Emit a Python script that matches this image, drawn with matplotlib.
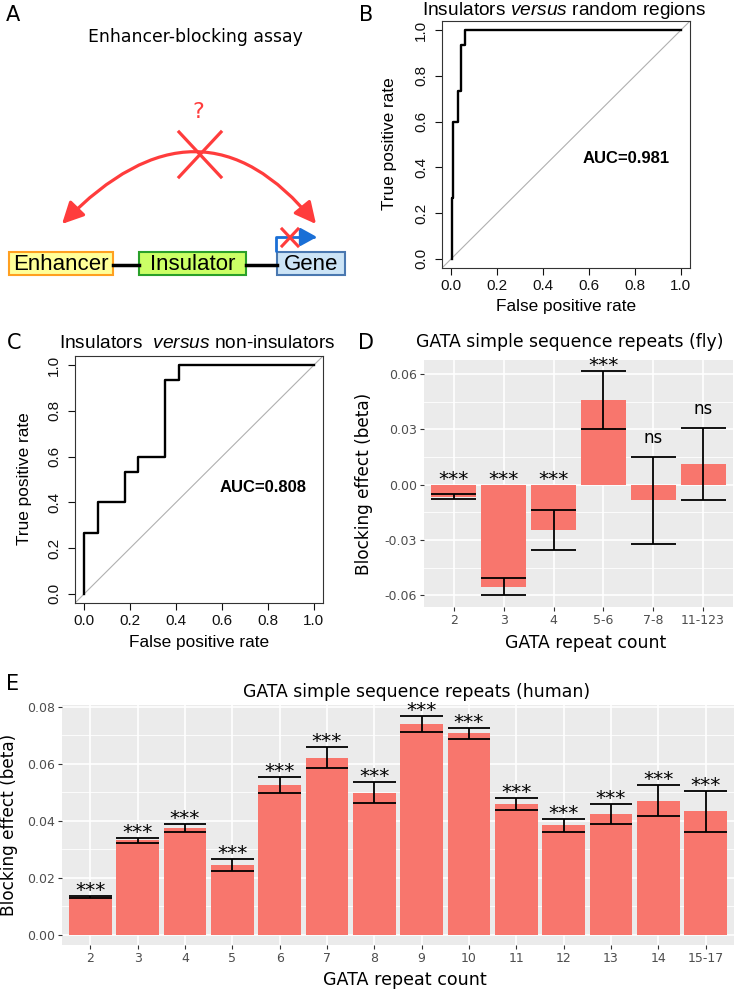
import matplotlib
matplotlib.use("Agg")
import matplotlib.pyplot as plt
import numpy as np
from matplotlib.patches import Rectangle, FancyArrowPatch, ArrowStyle
from matplotlib.path import Path

plt.rcParams["font.family"] = ["DejaVu Sans"]
plt.rcParams["mathtext.fontset"] = "custom"
plt.rcParams["mathtext.rm"] = "Liberation Sans"
plt.rcParams["mathtext.it"] = "Liberation Sans:italic"

# ---- data ----
# ROC curves (corner points, steps drawn vertical first)
roc_b_fpr = [0.003, 0.010, 0.029, 0.041, 0.059, 1.0]
roc_b_tpr = [0.0, 4 / 15, 9 / 15, 11 / 15, 14 / 15, 1.0]
auc_b = 0.981

roc_c_fpr = [0.0, 1 / 17, 3 / 17, 4 / 17, 6 / 17, 7 / 17, 1.0]
roc_c_tpr = [0.0, 4 / 15, 6 / 15, 8 / 15, 9 / 15, 14 / 15, 1.0]
auc_c = 0.808

fly_labels = ["2", "3", "4", "5-6", "7-8", "11-123"]
fly_beta = [-0.0065, -0.0552, -0.0245, 0.0458, -0.0085, 0.0112]
fly_err = [0.0014, 0.0048, 0.0108, 0.0158, 0.0235, 0.0197]
fly_sig = ["***", "***", "***", "***", "ns", "ns"]

human_labels = ["2", "3", "4", "5", "6", "7", "8", "9", "10", "11", "12", "13", "14", "15-17"]
human_beta = [0.0133, 0.0332, 0.0376, 0.0245, 0.0525, 0.0621, 0.0498, 0.0739,
              0.0707, 0.0459, 0.0384, 0.0424, 0.0471, 0.0433]
human_err = [0.0002, 0.0008, 0.0014, 0.0022, 0.0029, 0.0037, 0.0037, 0.0028,
             0.0020, 0.0020, 0.0023, 0.0034, 0.0055, 0.0072]
human_sig = ["***"] * 14

W, H = 735, 994
RED = "#ff3c3c"
BAR = "#F8766D"


def rect(x0, y0, x1, y1):
    """ Pixel box (top-left origin) to figure fraction. """
    return [x0 / W, 1 - y1 / H, (x1 - x0) / W, (y1 - y0) / H]


def ftext(x, y, s, **kw):
    fig.text(x / W, 1 - y / H, s, ha="center", va="center", **kw)


fig = plt.figure(figsize=(W / 100, H / 100), dpi=100)

# ---- panel A: schematic ----
axa = fig.add_axes(rect(0, 0, 365, 300))
axa.set_xlim(0, 365)
axa.set_ylim(300, 0)
axa.axis("off")
axa.text(195, 37, "Enhancer-blocking assay", ha="center", va="center", fontsize=12.4)
axa.text(198, 112, "?", ha="center", va="center", fontsize=16, color=RED)

arc = Path([(62, 224), (200, 82), (316, 224)], [Path.MOVETO, Path.CURVE3, Path.CURVE3])
axa.add_patch(FancyArrowPatch(path=arc, arrowstyle=ArrowStyle("<|-|>", head_length=1.0, head_width=0.5),
                              mutation_scale=13, color=RED, lw=2.3))
axa.plot([179, 221], [132, 177], color=RED, lw=2.3)
axa.plot([221, 179], [132, 177], color=RED, lw=2.3)

axa.plot([113, 139], [265, 265], color="black", lw=2.5)
axa.plot([246, 277], [265, 265], color="black", lw=2.5)
boxes = [("Enhancer", 9, 113, "#ffff99", "#ffa020"),
         ("Insulator", 139, 246, "#ccff66", "#2aa02a"),
         ("Gene", 277, 345, "#cce4f6", "#4a78b0")]
for name, x0, x1, fc, ec in boxes:
    axa.add_patch(Rectangle((x0, 252), x1 - x0, 23, facecolor=fc, edgecolor=ec, lw=1.5))
    axa.text((x0 + x1) / 2, 264, name, ha="center", va="center", fontsize=16,
             family="Liberation Sans")

tss = Path([(276, 251), (276, 237), (317, 237)], [Path.MOVETO, Path.LINETO, Path.LINETO])
axa.add_patch(FancyArrowPatch(path=tss, arrowstyle=ArrowStyle("-|>", head_length=1.0, head_width=0.55),
                              mutation_scale=10, color="#1a6fd6", lw=2.0))
axa.plot([282, 298], [229, 246], color=RED, lw=2.2)
axa.plot([298, 282], [229, 246], color=RED, lw=2.2)


# ---- panels B, C: ROC curves ----
def roc_panel(box, fpr, tpr, auc, auc_xy):
    ax = fig.add_axes(rect(*box))
    ax.plot(fpr, tpr, color="black", lw=1.7, drawstyle="steps-pre", zorder=3)
    ax.axline((0, 0), slope=1, color="#b0b0b0", lw=0.8)
    ax.set_xlim(-0.04, 1.04)
    ax.set_ylim(-0.04, 1.04)
    ticks = np.arange(0, 1.01, 0.2)
    ax.set_xticks(ticks, [f"{t:.1f}" for t in ticks])
    ax.set_yticks(ticks, [f"{t:.1f}" for t in ticks])
    ax.tick_params(length=5, width=0.8, labelsize=11, colors="#111111")
    ax.tick_params(axis="x", pad=3)
    ax.tick_params(axis="y", pad=5)
    for lab in ax.get_xticklabels() + ax.get_yticklabels():
        lab.set_family("Liberation Sans")
    for lab in ax.get_yticklabels():
        lab.set_rotation(90)
        lab.set_va("center")
    for s in ax.spines.values():
        s.set_linewidth(0.8)
        s.set_color("#333333")
    ax.text(auc_xy[0], auc_xy[1], f"AUC={auc:.3f}", ha="center", va="center",
            fontsize=12, fontweight="bold", family="Liberation Sans")
    return ax


roc_panel((442, 21, 690, 268), roc_b_fpr, roc_b_tpr, auc_b, (0.76, 0.44))
roc_panel((75, 356, 323, 603), roc_c_fpr, roc_c_tpr, auc_c, (0.78, 0.465))

rfont = dict(family="Liberation Sans", fontsize=12.4)
tfont = dict(family="Liberation Sans", fontsize=13.8)
ftext(564, 10.5, r"Insulators $\mathit{versus}$ random regions", **tfont)
ftext(566, 307, "False positive rate", **rfont)
ftext(389, 144, "True positive rate", rotation=90, **rfont)
ftext(197, 344, r"Insulators  $\mathit{versus}$ non-insulators", **tfont)
ftext(199, 643, "False positive rate", **rfont)
ftext(24, 479, "True positive rate", rotation=90, **rfont)


# ---- panels D, E: ggplot-style bars ----
def gg_panel(box, labels, beta, err, sig, ylim, major, minor):
    ax = fig.add_axes(rect(*box))
    x = np.arange(1, len(labels) + 1)
    beta = np.array(beta)
    err = np.array(err)
    ax.set_facecolor("#EBEBEB")
    ax.bar(x, beta, width=0.9, color=BAR, zorder=2)
    lo, hi = beta - err, beta + err
    ax.vlines(x, lo, hi, color="black", lw=1.3, zorder=3)
    ax.hlines(lo, x - 0.45, x + 0.45, color="black", lw=1.3, zorder=3)
    ax.hlines(hi, x - 0.45, x + 0.45, color="black", lw=1.3, zorder=3)
    top = np.maximum(hi, 0)
    for xi, yi, s in zip(x, top, sig):
        stars = s == "***"
        ax.annotate(s, (xi, yi), xytext=(0, 0 if stars else 10), textcoords="offset points",
                    ha="center", va="baseline", fontsize=14.5 if stars else 12, zorder=4)
    ax.set_xlim(0.4, len(labels) + 0.6)
    ax.set_ylim(*ylim)
    ax.set_xticks(x, labels)
    ax.set_yticks(major, [f"{v:.2f}" for v in major])
    ax.set_yticks(minor, minor=True)
    ax.tick_params(which="major", length=3, width=0.8, color="#333333",
                   labelcolor="#4D4D4D", labelsize=9, pad=2)
    ax.tick_params(which="minor", length=0)
    ax.grid(which="major", color="white", lw=1.2)
    ax.grid(which="minor", axis="y", color="white", lw=0.6)
    ax.set_axisbelow(True)
    for s in ax.spines.values():
        s.set_visible(False)
    return ax


gg_panel((424, 360, 733, 607), fly_labels, fly_beta, fly_err, fly_sig, (-0.0663, 0.0676),
         [-0.06, -0.03, 0.0, 0.03, 0.06], [-0.045, -0.015, 0.015, 0.045])
gg_panel((62, 705, 734, 945), human_labels, human_beta, human_err, human_sig, (-0.0035, 0.0806),
         [0.0, 0.02, 0.04, 0.06, 0.08], [0.01, 0.03, 0.05, 0.07])

ftext(570, 342, "GATA simple sequence repeats (fly)", fontsize=12.4)
ftext(586, 643, "GATA repeat count", fontsize=12.4)
ftext(364, 484, "Blocking effect (beta)", rotation=90, fontsize=12.2)
ftext(417, 692, "GATA simple sequence repeats (human)", fontsize=12.4)
ftext(405, 980, "GATA repeat count", fontsize=12.6)
ftext(9, 825, "Blocking effect (beta)", rotation=90, fontsize=12.2)

# panel letters
for letter, px, py in [("A", 13, 15), ("B", 366, 15), ("C", 14, 343), ("D", 366, 343), ("E", 13, 684)]:
    ftext(px, py, letter, fontsize=15)

fig.savefig("out.png", dpi=100)
